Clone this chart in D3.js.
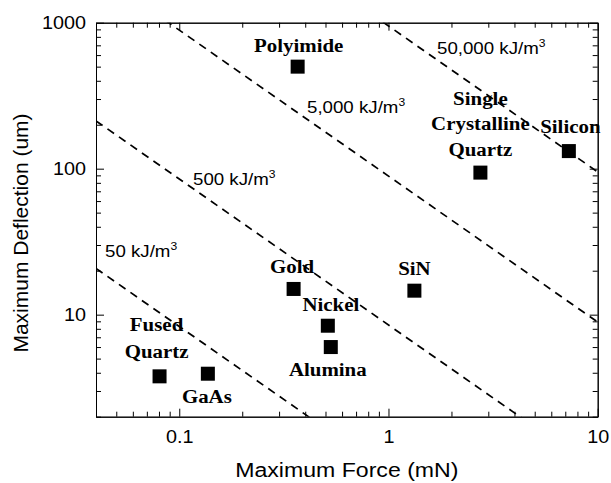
<!DOCTYPE html>
<html>
<head>
<meta charset="utf-8">
<script src="https://cdn.jsdelivr.net/npm/d3@7"></script>
<style>
  body { margin: 0; background: #fff; }
  .axis path, .axis line { stroke: #000; stroke-width: 1; }
  .axis text { font-family: Arial, "Liberation Sans", sans-serif; font-size: 18px; fill: #000; }
  .title { font-family: Arial, "Liberation Sans", sans-serif; font-size: 21px; fill: #000; }
  .energy { font-family: Arial, "Liberation Sans", sans-serif; font-size: 17px; fill: #000; }
  .mat { font-family: "Times New Roman", "Liberation Serif", serif; font-weight: bold; font-size: 19px; fill: #000; }
</style>
</head>
<body>
<svg id="chart"></svg>
<script>
// Materials (names split over lines as in the figure)
const materials = ["Polyimide", "Single\nCrystalline\nQuartz", "Silicon", "Gold", "SiN", "Nickel", "Alumina", "Fused\nQuartz", "GaAs"];
const forceMN = [0.368, 2.75, 7.28, 0.352, 1.33, 0.513, 0.53, 0.0805, 0.137];
const deflectionUm = [500, 94, 132, 15.0, 14.6, 8.4, 6.0, 3.78, 3.94];

// Constant-energy lines: force * deflection = const
const energyLabels = ["50", "500", "5,000", "50,000"];
const energyProduct = [0.83, 8.5, 89, 950];

// Tick labels
const xMajorTicks = [0.1, 1, 10];
const yMajorTicks = [10, 100, 1000];

const width = 611;
const height = 483;
const plotLeft = 96, plotRight = 597.7, plotTop = 22.7, plotBottom = 416.7;
const sx = 1.1; // the figure's text is a little wide

const svg = d3.select("#chart")
    .attr("width", width)
    .attr("height", height);

const x = d3.scaleLog().domain([0.04, 10]).range([plotLeft, plotRight]);
const y = d3.scaleLog().domain([2, 1000]).range([plotBottom, plotTop]);

// minor ticks come from the scale itself
const xMinor = x.ticks().filter(d => !xMajorTicks.includes(d));
const yMinor = y.ticks().filter(d => !yMajorTicks.includes(d));

function drawAxis(axisFn, pos, transform, labels) {
    svg.append("g").attr("class", "axis").attr("transform", transform)
        .call(axisFn(pos.scale).tickValues(pos.minor).tickSize(-5).tickSizeOuter(0).tickFormat(""));
    const g = svg.append("g").attr("class", "axis").attr("transform", transform)
        .call(axisFn(pos.scale).tickValues(pos.major).tickSize(-8).tickSizeOuter(0)
            .tickPadding(pos.pad || 3)
            .tickFormat(labels ? d => String(d) : ""));
    return g;
}

const gx = drawAxis(d3.axisBottom, {scale: x, minor: xMinor, major: xMajorTicks, pad: 13.5}, `translate(0,${plotBottom})`, true);
drawAxis(d3.axisTop, {scale: x, minor: xMinor, major: xMajorTicks}, `translate(0,${plotTop})`, false);
const gy = drawAxis(d3.axisLeft, {scale: y, minor: yMinor, major: yMajorTicks, pad: 9}, `translate(${plotLeft},0)`, true);
drawAxis(d3.axisRight, {scale: y, minor: yMinor, major: yMajorTicks}, `translate(${plotRight},0)`, false);

gx.selectAll(".tick text").attr("transform", `scale(${sx},1)`);
gy.selectAll(".tick text").attr("transform", `scale(${sx},1)`);

// clip for the dashed lines
svg.append("clipPath").attr("id", "plot")
    .append("rect").attr("x", plotLeft).attr("y", plotTop)
    .attr("width", plotRight - plotLeft).attr("height", plotBottom - plotTop);

const line = d3.line().x(d => x(d[0])).y(d => y(d[1]));
const xDom = x.domain();

svg.append("g").attr("clip-path", "url(#plot)")
    .selectAll("path")
    .data(energyProduct)
    .enter()
    .append("path")
    .attr("d", k => line([[xDom[0], k / xDom[0]], [xDom[1], k / xDom[1]]]))
    .attr("fill", "none")
    .attr("stroke", "#000")
    .attr("stroke-width", 1.7)
    .attr("stroke-dasharray", "8,6");

// energy labels (left edge, baseline)
const energyLabelPos = [[105, 256.5], [193, 185], [307, 113], [437, 53.5]];
energyLabels.forEach((s, i) => {
    const t = svg.append("text").attr("class", "energy")
        .attr("transform", `translate(${energyLabelPos[i][0]},${energyLabelPos[i][1]}) scale(${sx},1)`);
    t.append("tspan").text(s + " kJ/m");
    t.append("tspan").attr("dy", -7).attr("font-size", 11).text("3");
});

// markers
svg.append("g")
    .selectAll("rect")
    .data(materials.map((m, i) => ({m, f: forceMN[i], d: deflectionUm[i]})))
    .enter()
    .append("rect")
    .attr("x", d => x(d.f) - 7)
    .attr("y", d => y(d.d) - 7)
    .attr("width", 14)
    .attr("height", 14)
    .attr("fill", "#000");

// material labels: offset of the first baseline from the marker, line step
const labelOffset = [[1, -15, 0], [0, -67.7, 25.5], [1.5, -18, 0], [-1.6, -16.3, 0], [0, -15.5, 0],
    [3, -15, 0], [-3, 29, 0], [-3, -45, 26.3], [-1, 29, 0]];
materials.forEach((m, i) => {
    const px = x(forceMN[i]) + labelOffset[i][0];
    const py = y(deflectionUm[i]) + labelOffset[i][1];
    m.split("\n").forEach((s, j) => {
        svg.append("text").attr("class", "mat")
            .attr("text-anchor", "middle")
            .attr("transform", `translate(${px},${py + j * labelOffset[i][2]}) scale(${sx},1)`)
            .text(s);
    });
});

// axis titles
svg.append("text").attr("class", "title")
    .attr("text-anchor", "middle")
    .attr("transform", `translate(${(plotLeft + plotRight) / 2},477) scale(${sx},1)`)
    .text("Maximum Force (mN)");

svg.append("text").attr("class", "title")
    .attr("text-anchor", "middle")
    .attr("transform", "translate(28,233) rotate(-90)")
    .text("Maximum Deflection (um)");
</script>
</body>
</html>
